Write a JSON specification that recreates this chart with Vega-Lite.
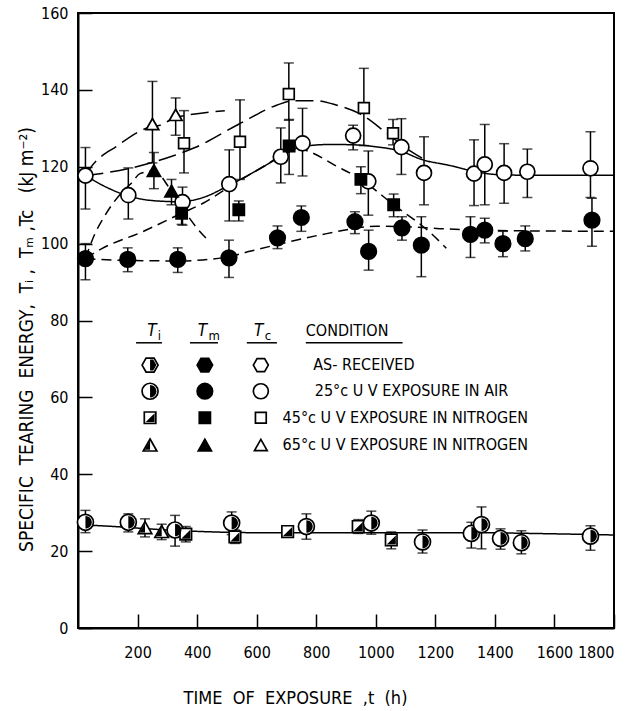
{
  "$schema": "https://vega.github.io/schema/vega-lite/v6.json",
  "width": 536,
  "height": 615,
  "autosize": "none",
  "padding": {"left": 78, "top": 13, "right": 23, "bottom": 83},
  "background": "white",
  "config": {
    "view": {"stroke": "black", "strokeWidth": 2},
    "axis": {
      "domainColor": "black", "domainWidth": 2, "tickColor": "black", "tickWidth": 1.5, "tickSize": -14,
      "labelFont": "DejaVu Sans Condensed", "labelFontSize": 16, "labelColor": "black", "grid": false,
      "titleFont": "DejaVu Sans Condensed", "titleFontSize": 18, "titleFontWeight": "normal", "titleColor": "black"
    }
  },
  "datasets": {
    "pts": [
      {"t": 25, "v": 117.7, "lo": 109, "hi": 125, "shp": "circle", "fil": "open"},
      {"t": 169, "v": 112.6, "lo": 106.4, "hi": 119.7, "shp": "circle", "fil": "open"},
      {"t": 351, "v": 110.8, "lo": 104.8, "hi": 114.7, "shp": "circle", "fil": "open"},
      {"t": 508, "v": 115.5, "lo": 105.9, "hi": 124.4, "shp": "circle", "fil": "open"},
      {"t": 681, "v": 122.6, "lo": 115.8, "hi": 130.1, "shp": "circle", "fil": "open"},
      {"t": 754, "v": 126.1, "lo": 117.6, "hi": 135.2, "shp": "circle", "fil": "open"},
      {"t": 924, "v": 128.1, "lo": 124.4, "hi": 130.8, "shp": "circle", "fil": "open"},
      {"t": 975, "v": 116.2, "lo": 107.4, "hi": 124.1, "shp": "circle", "fil": "open"},
      {"t": 1086, "v": 125.1, "lo": 118, "hi": 132.5, "shp": "circle", "fil": "open"},
      {"t": 1162, "v": 118.4, "lo": 110.1, "hi": 127.8, "shp": "circle", "fil": "open"},
      {"t": 1330, "v": 118.2, "lo": 109.9, "hi": 127, "shp": "circle", "fil": "open"},
      {"t": 1366, "v": 120.6, "lo": 110.1, "hi": 131, "shp": "circle", "fil": "open"},
      {"t": 1431, "v": 118.4, "lo": 110.5, "hi": 126, "shp": "circle", "fil": "open"},
      {"t": 1509, "v": 118.7, "lo": 112, "hi": 124.6, "shp": "circle", "fil": "open"},
      {"t": 1721, "v": 119.6, "lo": 112, "hi": 129.1, "shp": "circle", "fil": "open"},
      {"t": 356, "v": 126.1, "lo": 118.4, "hi": 134.6, "shp": "square", "fil": "open"},
      {"t": 544, "v": 126.5, "lo": 116.7, "hi": 137.4, "shp": "square", "fil": "open"},
      {"t": 708, "v": 138.9, "lo": 132.1, "hi": 147, "shp": "square", "fil": "open"},
      {"t": 960, "v": 135.3, "lo": 125.5, "hi": 145.6, "shp": "square", "fil": "open"},
      {"t": 1058, "v": 128.7, "lo": 125.7, "hi": 132.3, "shp": "square", "fil": "open"},
      {"t": 250, "v": 131, "lo": 121, "hi": 142.2, "shp": "triangle", "fil": "open"},
      {"t": 328, "v": 133.4, "lo": 128.2, "hi": 137.9, "shp": "triangle", "fil": "open"},
      {"t": 25, "v": 96.1, "lo": 90.6, "hi": 100, "shp": "circle", "fil": "filled"},
      {"t": 167, "v": 95.9, "lo": 92.7, "hi": 98.9, "shp": "circle", "fil": "filled"},
      {"t": 335, "v": 95.9, "lo": 92.5, "hi": 98.9, "shp": "circle", "fil": "filled"},
      {"t": 507, "v": 96.3, "lo": 91.2, "hi": 100.9, "shp": "circle", "fil": "filled"},
      {"t": 670, "v": 101.5, "lo": 98.7, "hi": 104.6, "shp": "circle", "fil": "filled"},
      {"t": 750, "v": 106.8, "lo": 103.2, "hi": 109.8, "shp": "circle", "fil": "filled"},
      {"t": 930, "v": 105.7, "lo": 102.6, "hi": 108.3, "shp": "circle", "fil": "filled"},
      {"t": 976, "v": 98, "lo": 93.1, "hi": 103.5, "shp": "circle", "fil": "filled"},
      {"t": 1088, "v": 104.1, "lo": 100.9, "hi": 107, "shp": "circle", "fil": "filled"},
      {"t": 1153, "v": 99.6, "lo": 91.4, "hi": 107, "shp": "circle", "fil": "filled"},
      {"t": 1318, "v": 102.4, "lo": 96.4, "hi": 107, "shp": "circle", "fil": "filled"},
      {"t": 1366, "v": 103.5, "lo": 100.2, "hi": 106.6, "shp": "circle", "fil": "filled"},
      {"t": 1427, "v": 100, "lo": 96.6, "hi": 103.2, "shp": "circle", "fil": "filled"},
      {"t": 1502, "v": 101.3, "lo": 98.1, "hi": 104.6, "shp": "circle", "fil": "filled"},
      {"t": 1726, "v": 106.1, "lo": 99.3, "hi": 111.8, "shp": "circle", "fil": "filled"},
      {"t": 348, "v": 107.9, "lo": 105, "hi": 109.7, "shp": "square", "fil": "filled"},
      {"t": 540, "v": 108.8, "lo": 105.9, "hi": 111.1, "shp": "square", "fil": "filled"},
      {"t": 709, "v": 125.4, "lo": 118, "hi": 132.3, "shp": "square", "fil": "filled"},
      {"t": 950, "v": 116.7, "lo": 113, "hi": 120, "shp": "square", "fil": "filled"},
      {"t": 1060, "v": 110.1, "lo": 107, "hi": 112.9, "shp": "square", "fil": "filled"},
      {"t": 255, "v": 118.9, "lo": 114.3, "hi": 123.7, "shp": "triangle", "fil": "filled"},
      {"t": 314, "v": 113.6, "lo": 110.1, "hi": 116.7, "shp": "triangle", "fil": "filled"},
      {"t": 25, "v": 27.5, "lo": 24.8, "hi": 30.6, "shp": "circle", "fil": "half"},
      {"t": 169, "v": 27.5, "lo": 25, "hi": 29.7, "shp": "circle", "fil": "half"},
      {"t": 225, "v": 26, "lo": 23.7, "hi": 28.4, "shp": "triangle", "fil": "half"},
      {"t": 281, "v": 25, "lo": 23, "hi": 27, "shp": "triangle", "fil": "half"},
      {"t": 326, "v": 25.5, "lo": 21.3, "hi": 29.3, "shp": "circle", "fil": "half"},
      {"t": 362, "v": 24.4, "lo": 22.4, "hi": 26.4, "shp": "square", "fil": "half"},
      {"t": 516, "v": 27.3, "lo": 24.3, "hi": 30.2, "shp": "circle", "fil": "half"},
      {"t": 527, "v": 23.7, "lo": 22, "hi": 25.5, "shp": "square", "fil": "half"},
      {"t": 704, "v": 25.1, "lo": 23.6, "hi": 26.6, "shp": "square", "fil": "half"},
      {"t": 767, "v": 26.4, "lo": 23.1, "hi": 29.7, "shp": "circle", "fil": "half"},
      {"t": 941, "v": 26.4, "lo": 24.6, "hi": 28.2, "shp": "square", "fil": "half"},
      {"t": 985, "v": 27.3, "lo": 24.4, "hi": 30.4, "shp": "circle", "fil": "half"},
      {"t": 1052, "v": 22.9, "lo": 20.6, "hi": 25, "shp": "square", "fil": "half"},
      {"t": 1157, "v": 22.4, "lo": 19.5, "hi": 25.5, "shp": "circle", "fil": "half"},
      {"t": 1321, "v": 24.6, "lo": 20.8, "hi": 27.5, "shp": "circle", "fil": "half"},
      {"t": 1355, "v": 26.9, "lo": 20.6, "hi": 31.5, "shp": "circle", "fil": "half"},
      {"t": 1419, "v": 23.3, "lo": 20.5, "hi": 25.8, "shp": "circle", "fil": "half"},
      {"t": 1489, "v": 22.2, "lo": 19.3, "hi": 25.3, "shp": "circle", "fil": "half"},
      {"t": 1721, "v": 23.9, "lo": 20.2, "hi": 26.6, "shp": "circle", "fil": "half"}
    ],
    "cur": [
      {"s": "Tc25", "t": 25, "v": 117.7}, {"s": "Tc25", "t": 100, "v": 114.5}, {"s": "Tc25", "t": 169, "v": 112.4},
      {"s": "Tc25", "t": 250, "v": 111.2}, {"s": "Tc25", "t": 340, "v": 110.9}, {"s": "Tc25", "t": 420, "v": 112},
      {"s": "Tc25", "t": 508, "v": 115.2}, {"s": "Tc25", "t": 600, "v": 119}, {"s": "Tc25", "t": 681, "v": 122.6},
      {"s": "Tc25", "t": 754, "v": 125.3}, {"s": "Tc25", "t": 850, "v": 125.8}, {"s": "Tc25", "t": 930, "v": 125.7},
      {"s": "Tc25", "t": 1000, "v": 125.2}, {"s": "Tc25", "t": 1086, "v": 124}, {"s": "Tc25", "t": 1150, "v": 122},
      {"s": "Tc25", "t": 1250, "v": 120.3}, {"s": "Tc25", "t": 1320, "v": 119}, {"s": "Tc25", "t": 1400, "v": 118},
      {"s": "Tc25", "t": 1500, "v": 117.8}, {"s": "Tc25", "t": 1800, "v": 117.8},
      {"s": "Tc45", "t": 25, "v": 117.7}, {"s": "Tc45", "t": 169, "v": 119.5}, {"s": "Tc45", "t": 325, "v": 123},
      {"s": "Tc45", "t": 393, "v": 125}, {"s": "Tc45", "t": 538, "v": 131}, {"s": "Tc45", "t": 667, "v": 136},
      {"s": "Tc45", "t": 722, "v": 137.2}, {"s": "Tc45", "t": 800, "v": 137.2}, {"s": "Tc45", "t": 856, "v": 136.3},
      {"s": "Tc45", "t": 946, "v": 133.8}, {"s": "Tc45", "t": 1036, "v": 128.8}, {"s": "Tc45", "t": 1114, "v": 124.2},
      {"s": "Tc45", "t": 1181, "v": 121.2},
      {"s": "Tc65", "t": 25, "v": 117.7}, {"s": "Tc65", "t": 40, "v": 119.5}, {"s": "Tc65", "t": 135, "v": 125.6},
      {"s": "Tc65", "t": 230, "v": 130}, {"s": "Tc65", "t": 275, "v": 130.8}, {"s": "Tc65", "t": 328, "v": 132.8},
      {"s": "Tc65", "t": 359, "v": 133.3}, {"s": "Tc65", "t": 493, "v": 134.6},
      {"s": "Tm25", "t": 25, "v": 96.1}, {"s": "Tm25", "t": 170, "v": 95.6}, {"s": "Tm25", "t": 335, "v": 95.5},
      {"s": "Tm25", "t": 500, "v": 96.5}, {"s": "Tm25", "t": 577, "v": 98}, {"s": "Tm25", "t": 700, "v": 100.3},
      {"s": "Tm25", "t": 835, "v": 102.6}, {"s": "Tm25", "t": 1000, "v": 104.5}, {"s": "Tm25", "t": 1100, "v": 104.4},
      {"s": "Tm25", "t": 1215, "v": 103.9}, {"s": "Tm25", "t": 1400, "v": 103.4}, {"s": "Tm25", "t": 1800, "v": 103.2},
      {"s": "Tm45", "t": 25, "v": 96.1}, {"s": "Tm45", "t": 80, "v": 98.7}, {"s": "Tm45", "t": 214, "v": 103},
      {"s": "Tm45", "t": 348, "v": 107.9}, {"s": "Tm45", "t": 420, "v": 110.5}, {"s": "Tm45", "t": 499, "v": 114.3},
      {"s": "Tm45", "t": 577, "v": 118}, {"s": "Tm45", "t": 644, "v": 121.1}, {"s": "Tm45", "t": 709, "v": 124.2},
      {"s": "Tm45", "t": 750, "v": 124.5}, {"s": "Tm45", "t": 784, "v": 123.7}, {"s": "Tm45", "t": 860, "v": 120.5},
      {"s": "Tm45", "t": 950, "v": 116.7}, {"s": "Tm45", "t": 1060, "v": 110.1}, {"s": "Tm45", "t": 1181, "v": 103},
      {"s": "Tm45", "t": 1237, "v": 98.8},
      {"s": "Tm65", "t": 25, "v": 96.1}, {"s": "Tm65", "t": 57, "v": 102.6}, {"s": "Tm65", "t": 85, "v": 106.6},
      {"s": "Tm65", "t": 113, "v": 110}, {"s": "Tm65", "t": 147, "v": 113.3}, {"s": "Tm65", "t": 180, "v": 115.8},
      {"s": "Tm65", "t": 208, "v": 118.2}, {"s": "Tm65", "t": 255, "v": 118.9}, {"s": "Tm65", "t": 314, "v": 113.6},
      {"s": "Tm65", "t": 359, "v": 108.3}, {"s": "Tm65", "t": 400, "v": 104}, {"s": "Tm65", "t": 437, "v": 100.9},
      {"s": "Ti", "t": 25, "v": 26.8}, {"s": "Ti", "t": 100, "v": 26.5}, {"s": "Ti", "t": 300, "v": 25.5},
      {"s": "Ti", "t": 600, "v": 24.8}, {"s": "Ti", "t": 1000, "v": 24.8}, {"s": "Ti", "t": 1300, "v": 24.8},
      {"s": "Ti", "t": 1600, "v": 24.5}, {"s": "Ti", "t": 1800, "v": 24.2}
    ],
    "leg": [
      {"t": 242, "v": 68.4, "shp": "hex", "fil": "half"}, {"t": 426, "v": 68.4, "shp": "hex", "fil": "filled"}, {"t": 614, "v": 68.4, "shp": "hex", "fil": "open"},
      {"t": 242, "v": 61.6, "shp": "circle", "fil": "half"}, {"t": 426, "v": 61.6, "shp": "circle", "fil": "filled"}, {"t": 614, "v": 61.6, "shp": "circle", "fil": "open"},
      {"t": 242, "v": 54.7, "shp": "square", "fil": "half"}, {"t": 426, "v": 54.7, "shp": "square", "fil": "filled"}, {"t": 614, "v": 54.7, "shp": "square", "fil": "open"},
      {"t": 242, "v": 47.5, "shp": "triangle", "fil": "half"}, {"t": 426, "v": 47.5, "shp": "triangle", "fil": "filled"}, {"t": 614, "v": 47.5, "shp": "triangle", "fil": "open"}
    ],
    "legtxt": [
      {"t": 765, "v": 77.2, "txt": "CONDITION"},
      {"t": 790, "v": 68.4, "txt": "AS- RECEIVED"},
      {"t": 795, "v": 61.6, "txt": "25°c U V EXPOSURE IN AIR"},
      {"t": 687, "v": 54.7, "txt": "45°c U V EXPOSURE IN NITROGEN"},
      {"t": 687, "v": 47.5, "txt": "65°c U V EXPOSURE IN NITROGEN"}
    ],
    "hdr": [
      {"t": 248, "v": 77.2, "main": "T", "sub": "i"},
      {"t": 418, "v": 77.2, "main": "T", "sub": "m"},
      {"t": 607, "v": 77.2, "main": "T", "sub": "c"}
    ],
    "ul": [
      {"t": 195, "t2": 282, "v": 74.2},
      {"t": 376, "t2": 470, "v": 74.2},
      {"t": 567, "t2": 668, "v": 74.2},
      {"t": 765, "t2": 1090, "v": 74.2}
    ]
  },
  "encoding": {
    "x": {"field": "t", "type": "quantitative", "scale": {"domain": [0, 1800], "nice": false, "zero": false},
      "axis": {"values": [200, 400, 600, 800, 1000, 1200, 1400, 1600, 1800], "format": "d", "labelPadding": 30, "title": "TIME\u00a0 OF\u00a0 EXPOSURE\u00a0 ,t\u00a0 (h)", "titleX": 217, "titleY": 75, "titleBaseline": "alphabetic", "titleAlign": "center"}},
    "y": {"field": "v", "type": "quantitative", "scale": {"domain": [0, 160], "nice": false},
      "axis": {"values": [0, 20, 40, 60, 80, 100, 120, 140, 160], "format": "d", "labelPadding": 24, "title": "SPECIFIC\u00a0 TEARING\u00a0 ENERGY,\u00a0 Tᵢ ,\u00a0 Tₘ ,Tc\u00a0\u00a0 (kJ m⁻²)", "titleFontSize": 19, "titleX": -52, "titleY": 326, "titleAlign": "center", "titleBaseline": "middle"}}
  },
  "layer": [
    {
      "data": {"name": "cur"},
      "mark": {"type": "line", "interpolate": "monotone", "color": "black", "strokeWidth": 1.5},
      "encoding": {
        "detail": {"field": "s"},
        "strokeDash": {"field": "s", "type": "nominal", "legend": null,
          "scale": {"domain": ["Tc25", "Tc45", "Tc65", "Tm25", "Tm45", "Tm65", "Ti"], "range": [[1, 0], [18, 7], [18, 7], [10, 6], [10, 6], [10, 6], [1, 0]]}}
      }
    },
    {
      "data": {"name": "pts"},
      "mark": {"type": "errorbar", "ticks": {"size": 10}, "thickness": 1.5, "color": "black"},
      "encoding": {
        "y": {"field": "lo", "type": "quantitative"},
        "y2": {"field": "hi"}
      }
    },
    {
      "data": {"name": "pts"},
      "mark": {"type": "point", "filled": true, "stroke": "black", "strokeWidth": 1.7, "opacity": 1},
      "encoding": {
        "shape": {"field": "shp", "type": "nominal", "legend": null,
          "scale": {"domain": ["hex", "circle", "square", "triangle"], "range": ["M-1,0L-0.5,-0.87L0.5,-0.87L1,0L0.5,0.87L-0.5,0.87Z", "circle", "M-0.72,-0.72L0.72,-0.72L0.72,0.72L-0.72,0.72Z", "M0,-0.8L0.85,0.7L-0.85,0.7Z"]}},
        "fill": {"field": "fil", "type": "nominal", "legend": null, "scale": {"domain": ["open", "filled", "half"], "range": ["white", "black", "white"]}},
        "size": {"field": "fil", "type": "ordinal", "legend": null, "scale": {"domain": ["open", "filled", "half"], "range": [225, 256, 160]}}
      }
    },
    {
      "data": {"name": "pts"},
      "transform": [{"filter": "datum.fil === 'half'"}],
      "mark": {"type": "point", "filled": true, "color": "black", "size": 160, "opacity": 1},
      "encoding": {
        "shape": {"field": "shp", "type": "nominal", "legend": null,
          "scale": {"domain": ["hex", "circle", "square", "triangle"], "range": ["M0,-0.87L0.5,-0.87L1,0L0.5,0.87L0,0.87Z", "M0,-1A1,1,0,0,1,0,1Z", "M0.72,-0.72L0.72,0.72L-0.72,0.72Z", "M0,-0.8L0,0.7L-0.85,0.7Z"]}}
      }
    },
    {
      "data": {"name": "leg"},
      "mark": {"type": "point", "filled": true, "stroke": "black", "strokeWidth": 1.7, "opacity": 1},
      "encoding": {
        "shape": {"field": "shp", "type": "nominal", "legend": null,
          "scale": {"domain": ["hex", "circle", "square", "triangle"], "range": ["M-1,0L-0.5,-0.87L0.5,-0.87L1,0L0.5,0.87L-0.5,0.87Z", "circle", "M-0.72,-0.72L0.72,-0.72L0.72,0.72L-0.72,0.72Z", "M0,-0.8L0.85,0.7L-0.85,0.7Z"]}},
        "fill": {"field": "fil", "type": "nominal", "legend": null, "scale": {"domain": ["open", "filled", "half"], "range": ["white", "black", "white"]}},
        "size": {"field": "fil", "type": "ordinal", "legend": null, "scale": {"domain": ["open", "filled", "half"], "range": [225, 256, 160]}}
      }
    },
    {
      "data": {"name": "leg"},
      "transform": [{"filter": "datum.fil === 'half'"}],
      "mark": {"type": "point", "filled": true, "color": "black", "size": 160, "opacity": 1},
      "encoding": {
        "shape": {"field": "shp", "type": "nominal", "legend": null,
          "scale": {"domain": ["hex", "circle", "square", "triangle"], "range": ["M0,-0.87L0.5,-0.87L1,0L0.5,0.87L0,0.87Z", "M0,-1A1,1,0,0,1,0,1Z", "M0.72,-0.72L0.72,0.72L-0.72,0.72Z", "M0,-0.8L0,0.7L-0.85,0.7Z"]}}
      }
    },
    {
      "data": {"name": "legtxt"},
      "mark": {"type": "text", "align": "left", "baseline": "middle", "font": "DejaVu Sans Condensed", "fontSize": 16, "color": "black"},
      "encoding": {"text": {"field": "txt"}}
    },
    {
      "data": {"name": "hdr"},
      "mark": {"type": "text", "align": "center", "baseline": "middle", "font": "DejaVu Sans Condensed", "fontStyle": "italic", "fontSize": 17, "color": "black"},
      "encoding": {"text": {"field": "main"}}
    },
    {
      "data": {"name": "hdr"},
      "mark": {"type": "text", "align": "left", "baseline": "middle", "dx": 6, "dy": 5, "font": "DejaVu Sans Condensed", "fontSize": 13, "color": "black"},
      "encoding": {"text": {"field": "sub"}}
    },
    {
      "data": {"name": "ul"},
      "mark": {"type": "rule", "color": "black", "strokeWidth": 1.5},
      "encoding": {"x2": {"field": "t2"}}
    }
  ],
  "resolve": {"scale": {"shape": "independent", "fill": "independent", "size": "independent"}}
}
